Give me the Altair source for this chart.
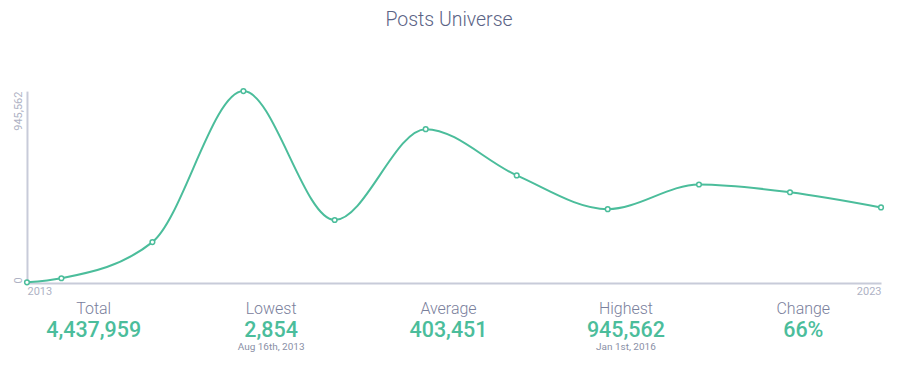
import altair as alt
import pandas as pd

# ---- data ----
dates = ["2013-08-16", "2014-01-01", "2015-01-01", "2016-01-01", "2017-01-01",
         "2018-01-01", "2019-01-01", "2020-01-01", "2021-01-01", "2022-01-01",
         "2023-01-01"]
posts = [2854, 23000, 201000, 945562, 310000, 758000, 530000, 363500, 485000,
         447000, 372043]

stat_names = ["Total", "Lowest", "Average", "Highest", "Change"]
stat_values = ["4,437,959", "2,854", "403,451", "945,562", "66%"]
stat_notes = ["", "Aug 16th, 2013", "", "Jan 1st, 2016", ""]

y_ticks = [0, 945562]

TEAL = "#4bbd9b"
GREY = "#c8cbd9"
FONT = "Roboto"

df = pd.DataFrame({"date": dates, "posts": posts})
stats = pd.DataFrame({"name": stat_names, "value": stat_values, "note": stat_notes})

x_enc = alt.X(
    "date:T",
    scale=alt.Scale(nice=False),
    axis=alt.Axis(
        values=[alt.DateTime(year=2013, month=8, date=16),
                alt.DateTime(year=2023, month=1, date=1)],
        format="%Y", labelFlush=True, ticks=False, grid=False, title=None,
        domainColor=GREY, domainWidth=2, labelColor="#aeb2c4",
        labelFontSize=11, labelFont=FONT, labelPadding=3,
    ),
)
y_enc = alt.Y(
    "posts:Q",
    scale=alt.Scale(domain=[0, 945562], nice=False, zero=True),
    axis=alt.Axis(
        values=y_ticks, labelExpr="format(datum.value, ',')", labelAngle=270,
        labelAlign={"condition": {"test": "datum.value == 0", "value": "left"},
                    "value": "right"},
        ticks=False, grid=False, title=None, domainColor=GREY,
        domainWidth=2, labelColor="#aeb2c4", labelFontSize=11, labelFont=FONT,
        labelPadding=3, minExtent=12, maxExtent=12,
    ),
)

base = alt.Chart(df).encode(x=x_enc, y=y_enc)
line = base.mark_line(interpolate="monotone", color=TEAL, strokeWidth=2)
pts = base.mark_point(filled=True, fill="white", stroke=TEAL, strokeWidth=1.5,
                      size=22, opacity=1)
plot = alt.layer(line, pts)

sx = alt.X("name:N", sort=stat_names, axis=None,
           scale=alt.Scale(range=[-22, 866], paddingInner=0, paddingOuter=0))
sbase = alt.Chart(stats)
t_label = sbase.mark_text(font=FONT, fontSize=16, fontWeight=300, color="#7a809c",
                          baseline="alphabetic").encode(x=sx, y=alt.value(223), text="name:N")
t_value = sbase.mark_text(font=FONT, fontSize=21.5, fontWeight=500, color=TEAL,
                          baseline="alphabetic").encode(x=sx, y=alt.value(246), text="value:N")
t_note = sbase.mark_text(font=FONT, fontSize=10, fontWeight=400, color="#8a8fa6",
                         baseline="alphabetic").encode(x=sx, y=alt.value(259), text="note:N")

chart = (
    alt.layer(plot, t_label, t_value, t_note)
    .resolve_scale(x="independent")
    .properties(
        width=855, height=192,
        padding={"left": 5, "top": 2, "right": 5, "bottom": 5},
        title=alt.Title("Posts Universe", fontSize=19.5, font=FONT, fontWeight=300,
                        color="#5b6385", anchor="middle", offset=55, dx=-5),
    )
    .configure_view(stroke=None)
)

chart.save("out.html", embed_options={"renderer": "svg", "actions": False})
